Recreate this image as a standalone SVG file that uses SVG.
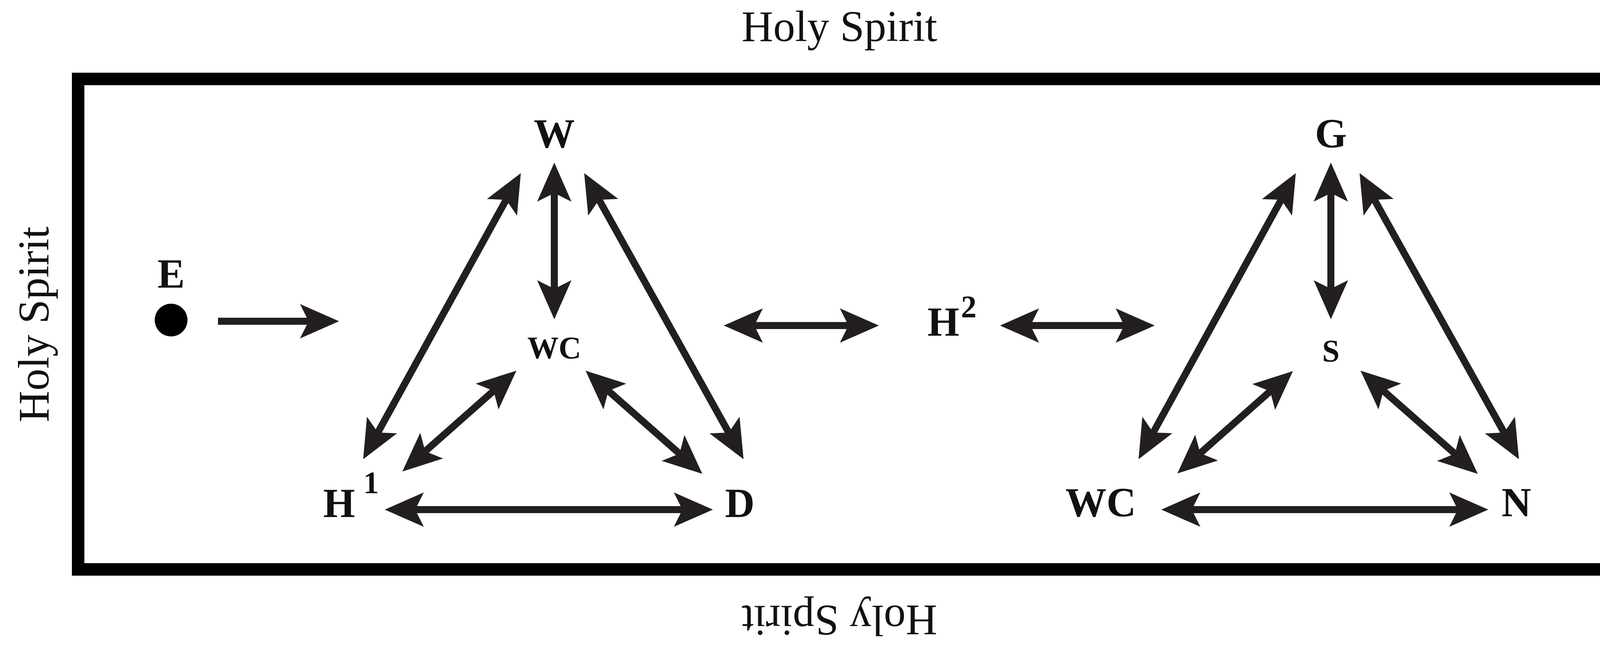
<svg xmlns="http://www.w3.org/2000/svg" width="4320" height="1653" viewBox="0 0 4320 1653">
<style>
.hs{font-family:"Liberation Serif",serif;font-size:112px;fill:#111}
.n{font-family:"Liberation Serif",serif;font-weight:bold;font-size:105px;fill:#111;text-anchor:middle}
.s{font-size:80px}
.c line{stroke:#231f20;stroke-width:18}
</style>
<defs>
<marker id="a" markerUnits="userSpaceOnUse" markerWidth="110" markerHeight="100" viewBox="0 -50 110 100" refX="60" refY="0" orient="auto-start-reverse">
<path d="M0,-44 L100,0 L0,44 L22,0 Z" fill="#231f20"/>
</marker>
</defs>
<rect x="0" y="0" width="4320" height="1653" fill="#fff"/>
<rect x="200" y="202" width="3918" height="1255" fill="none" stroke="#000" stroke-width="32"/>
<text class="hs" x="2149" y="105" text-anchor="middle">Holy Spirit</text>
<text class="hs" text-anchor="middle" transform="translate(2149,1550) rotate(180)">Holy Spirit</text>
<text class="hs" text-anchor="middle" transform="translate(124,830) rotate(-90)">Holy Spirit</text>
<text class="hs" text-anchor="middle" transform="translate(4208,840) rotate(90)">Holy Spirit</text>
<g id="E"><text class="n" x="438" y="736">E</text><circle cx="438" cy="819" r="42" fill="#000"/></g>
<g id="W"><text class="n" x="1419" y="377">W</text></g>
<g id="WC1"><text class="n s" x="1419" y="917">WC</text></g>
<g id="H1"><text class="n" x="868" y="1323">H</text><text class="n s" x="950" y="1262">1</text></g>
<g id="D"><text class="n" x="1894" y="1323">D</text></g>
<g id="H2"><text class="n" x="2415" y="859">H</text><text class="n s" x="2480" y="812">2</text></g>
<g id="G"><text class="n" x="3407" y="377">G</text></g>
<g id="S"><text class="n s" x="3407" y="925">S</text></g>
<g id="WC2"><text class="n" x="2818" y="1321">WC</text></g>
<g id="N"><text class="n" x="3882" y="1321">N</text></g>
<g class="c" id="connectors">
<line x1="558" y1="822" x2="828" y2="822" stroke-width="22" marker-end="url(#a)"/>
<line x1="1419" y1="456" x2="1419" y2="777" marker-start="url(#a)" marker-end="url(#a)"/>
<line x1="949" y1="1140" x2="1314" y2="478" marker-start="url(#a)" marker-end="url(#a)"/>
<line x1="1515" y1="478" x2="1884" y2="1140" marker-start="url(#a)" marker-end="url(#a)"/>
<line x1="1292" y1="975" x2="1060" y2="1180" marker-start="url(#a)" marker-end="url(#a)"/>
<line x1="1529" y1="975" x2="1768" y2="1186" marker-start="url(#a)" marker-end="url(#a)"/>
<line x1="1025" y1="1304" x2="1785" y2="1304" marker-start="url(#a)" marker-end="url(#a)"/>
<line x1="1893" y1="833" x2="2210" y2="833" marker-start="url(#a)" marker-end="url(#a)"/>
<line x1="2600" y1="833" x2="2916" y2="833" marker-start="url(#a)" marker-end="url(#a)"/>
<line x1="3407" y1="456" x2="3407" y2="777" marker-start="url(#a)" marker-end="url(#a)"/>
<line x1="2934" y1="1140" x2="3298" y2="478" marker-start="url(#a)" marker-end="url(#a)"/>
<line x1="3500" y1="478" x2="3869" y2="1140" marker-start="url(#a)" marker-end="url(#a)"/>
<line x1="3280" y1="976" x2="3044" y2="1185" marker-start="url(#a)" marker-end="url(#a)"/>
<line x1="3513" y1="975" x2="3753" y2="1186" marker-start="url(#a)" marker-end="url(#a)"/>
<line x1="3013" y1="1304" x2="3770" y2="1304" marker-start="url(#a)" marker-end="url(#a)"/>
</g>
</svg>
